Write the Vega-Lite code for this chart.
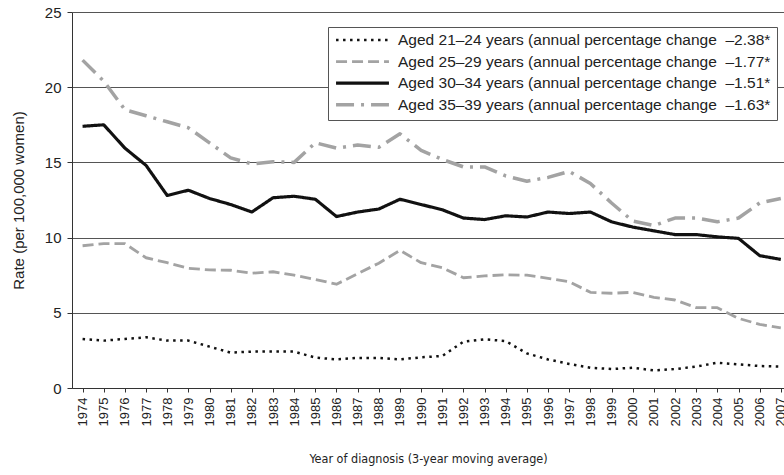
{
  "$schema": "https://vega.github.io/schema/vega-lite/v6.json",
  "autosize": {"type": "none"},
  "padding": {"left": 72, "top": 12, "right": 0, "bottom": 87},
  "width": 712,
  "height": 376,
  "background": "white",
  "config": {
    "view": {"stroke": null},
    "font": "Liberation Sans",
    "axis": {"domainColor": "#333", "tickColor": "#333", "labelColor": "#222", "titleColor": "#222", "labelFont": "Liberation Sans", "titleFont": "Liberation Sans", "titleFontWeight": "normal"},
    "legend": {
      "orient": "none", "legendX": 256, "legendY": 15, "title": null,
      "symbolType": "stroke", "symbolSize": 2800, "clipHeight": 14, "rowPadding": 5.6,
      "labelFontSize": 15.5, "labelLimit": 0, "labelOffset": 7, "labelColor": "#222", "labelFont": "Liberation Sans",
      "strokeColor": "#555", "fillColor": "white", "padding": 6
    }
  },
  "data": {"values": [
    {"year": 1974, "a21": 3.26, "a25": 9.46, "a30": 17.4, "a35": 21.8},
    {"year": 1975, "a21": 3.15, "a25": 9.6, "a30": 17.5, "a35": 20.4},
    {"year": 1976, "a21": 3.26, "a25": 9.6, "a30": 15.95, "a35": 18.5},
    {"year": 1977, "a21": 3.37, "a25": 8.66, "a30": 14.8, "a35": 18.1},
    {"year": 1978, "a21": 3.15, "a25": 8.33, "a30": 12.8, "a35": 17.7},
    {"year": 1979, "a21": 3.15, "a25": 7.96, "a30": 13.15, "a35": 17.3},
    {"year": 1980, "a21": 2.75, "a25": 7.85, "a30": 12.6, "a35": 16.3},
    {"year": 1981, "a21": 2.35, "a25": 7.83, "a30": 12.2, "a35": 15.3},
    {"year": 1982, "a21": 2.42, "a25": 7.63, "a30": 11.7, "a35": 14.9},
    {"year": 1983, "a21": 2.42, "a25": 7.73, "a30": 12.65, "a35": 15.05},
    {"year": 1984, "a21": 2.42, "a25": 7.5, "a30": 12.75, "a35": 15.0},
    {"year": 1985, "a21": 2.02, "a25": 7.22, "a30": 12.55, "a35": 16.3},
    {"year": 1986, "a21": 1.9, "a25": 6.9, "a30": 11.4, "a35": 15.95},
    {"year": 1987, "a21": 2.0, "a25": 7.6, "a30": 11.7, "a35": 16.15},
    {"year": 1988, "a21": 2.0, "a25": 8.3, "a30": 11.9, "a35": 16.0},
    {"year": 1989, "a21": 1.9, "a25": 9.15, "a30": 12.55, "a35": 16.9},
    {"year": 1990, "a21": 2.04, "a25": 8.33, "a30": 12.2, "a35": 15.8},
    {"year": 1991, "a21": 2.13, "a25": 8.0, "a30": 11.85, "a35": 15.2},
    {"year": 1992, "a21": 3.08, "a25": 7.33, "a30": 11.3, "a35": 14.7},
    {"year": 1993, "a21": 3.24, "a25": 7.45, "a30": 11.2, "a35": 14.7},
    {"year": 1994, "a21": 3.12, "a25": 7.53, "a30": 11.45, "a35": 14.1},
    {"year": 1995, "a21": 2.3, "a25": 7.5, "a30": 11.37, "a35": 13.75},
    {"year": 1996, "a21": 1.9, "a25": 7.29, "a30": 11.7, "a35": 14.0},
    {"year": 1997, "a21": 1.6, "a25": 7.07, "a30": 11.6, "a35": 14.4},
    {"year": 1998, "a21": 1.35, "a25": 6.36, "a30": 11.7, "a35": 13.6},
    {"year": 1999, "a21": 1.26, "a25": 6.3, "a30": 11.05, "a35": 12.3},
    {"year": 2000, "a21": 1.35, "a25": 6.36, "a30": 10.7, "a35": 11.1},
    {"year": 2001, "a21": 1.17, "a25": 6.03, "a30": 10.45, "a35": 10.8},
    {"year": 2002, "a21": 1.26, "a25": 5.85, "a30": 10.2, "a35": 11.3},
    {"year": 2003, "a21": 1.42, "a25": 5.34, "a30": 10.2, "a35": 11.3},
    {"year": 2004, "a21": 1.68, "a25": 5.34, "a30": 10.05, "a35": 11.05},
    {"year": 2005, "a21": 1.57, "a25": 4.63, "a30": 9.95, "a35": 11.3},
    {"year": 2006, "a21": 1.46, "a25": 4.23, "a30": 8.8, "a35": 12.3},
    {"year": 2007, "a21": 1.42, "a25": 4.0, "a30": 8.55, "a35": 12.6}
  ]},
  "transform": [{"fold": ["a21", "a25", "a30", "a35"], "as": ["group", "rate"]}],
  "mark": {"type": "line", "strokeCap": "butt", "strokeJoin": "round"},
  "encoding": {
    "x": {
      "field": "year", "type": "quantitative",
      "scale": {"domain": [1973.5, 2007.15], "nice": false, "zero": false},
      "axis": {
        "title": "Year of diagnosis (3-year moving average)",
        "values": [1974,1975,1976,1977,1978,1979,1980,1981,1982,1983,1984,1985,1986,1987,1988,1989,1990,1991,1992,1993,1994,1995,1996,1997,1998,1999,2000,2001,2002,2003,2004,2005,2006,2007],
        "format": "d", "labelAngle": 270, "labelFontSize": 13, "tickSize": 4, "labelPadding": 5,
        "grid": false, "labelOverlap": false, "labelFlush": false, "labelBound": false,
        "titleFont": "Liberation Sans Narrow, DejaVu Sans Condensed, Liberation Sans, sans-serif", "titleFontSize": 12.5, "titlePadding": 27
      }
    },
    "y": {
      "field": "rate", "type": "quantitative",
      "scale": {"domain": [0, 25], "nice": false},
      "axis": {
        "title": "Rate (per 100,000 women)",
        "values": [0, 5, 10, 15, 20, 25], "grid": true, "gridColor": "#555", "gridWidth": 1,
        "labelFontSize": 15, "titleFontSize": 15, "tickSize": 5, "labelPadding": 6, "titlePadding": 18
      }
    },
    "color": {
      "field": "group", "type": "nominal",
      "scale": {"domain": ["a21", "a25", "a30", "a35"], "range": ["#111111", "#a3a3a3", "#111111", "#a3a3a3"]},
      "legend": {
        "labelExpr": "datum.value == 'a21' ? 'Aged 21–24 years (annual percentage change \u00a0–2.38*' : datum.value == 'a25' ? 'Aged 25–29 years (annual percentage change \u00a0–1.77*' : datum.value == 'a30' ? 'Aged 30–34 years (annual percentage change \u00a0–1.51*' : 'Aged 35–39 years (annual percentage change \u00a0–1.63*'"
      }
    },
    "strokeDash": {
      "field": "group", "type": "nominal",
      "scale": {"domain": ["a21", "a25", "a30", "a35"], "range": [[2.5, 4.5], [11, 5], [1, 0], [18, 7, 3, 7]]},
      "legend": {
        "labelExpr": "datum.value == 'a21' ? 'Aged 21–24 years (annual percentage change \u00a0–2.38*' : datum.value == 'a25' ? 'Aged 25–29 years (annual percentage change \u00a0–1.77*' : datum.value == 'a30' ? 'Aged 30–34 years (annual percentage change \u00a0–1.51*' : 'Aged 35–39 years (annual percentage change \u00a0–1.63*'"
      }
    },
    "strokeWidth": {
      "field": "group", "type": "nominal",
      "scale": {"domain": ["a21", "a25", "a30", "a35"], "range": [2.5, 3.5, 3, 3.5]},
      "legend": {
        "labelExpr": "datum.value == 'a21' ? 'Aged 21–24 years (annual percentage change \u00a0–2.38*' : datum.value == 'a25' ? 'Aged 25–29 years (annual percentage change \u00a0–1.77*' : datum.value == 'a30' ? 'Aged 30–34 years (annual percentage change \u00a0–1.51*' : 'Aged 35–39 years (annual percentage change \u00a0–1.63*'"
      }
    }
  }
}
